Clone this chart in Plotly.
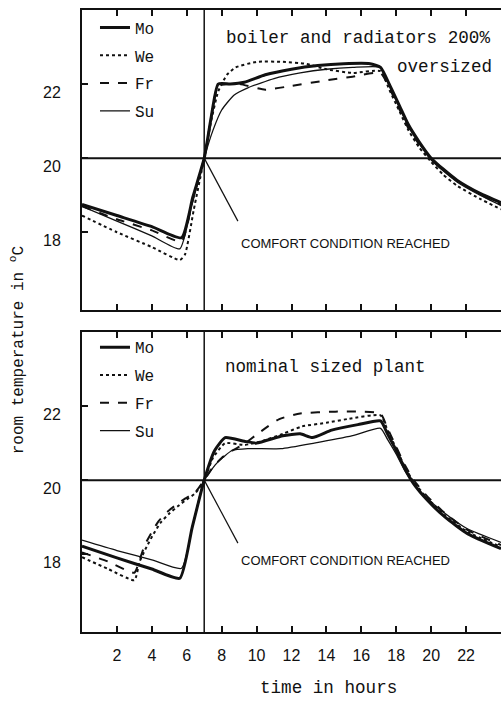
import plotly.graph_objects as go

# ---------------- data ----------------
DAYS = ["Mo", "We", "Fr", "Su"]

# top panel: boiler and radiators 200% oversized
TOP_MO_H = [0, 2, 4, 5.7, 6.35, 7, 7.4, 7.8, 8.5, 9.3, 10.5, 12, 13.5, 15, 16.5, 17.1, 17.6, 18.2, 18.7, 19.3, 20, 20.7, 21.5, 22.8, 24]
TOP_MO_T = [18.75, 18.45, 18.15, 17.85, 18.95, 20.0, 21.1, 22.0, 22.0, 22.05, 22.25, 22.4, 22.5, 22.55, 22.55, 22.45, 22.0, 21.4, 20.9, 20.45, 20.0, 19.7, 19.4, 19.05, 18.8]
TOP_WE_H = [0, 2, 4, 5.6, 5.9, 6.4, 7, 7.4, 7.8, 8.3, 8.8, 10, 11.5, 12.8, 14, 15.5, 17.1, 17.6, 18.2, 18.7, 19.3, 20, 20.7, 21.5, 22.8, 24]
TOP_WE_T = [18.45, 18.0, 17.6, 17.25, 17.4, 18.6, 20.0, 21.0, 21.8, 22.25, 22.45, 22.6, 22.6, 22.55, 22.4, 22.3, 22.35, 21.85, 21.25, 20.75, 20.3, 19.9, 19.55, 19.25, 18.9, 18.62]
TOP_FR_H = [0, 2, 4, 5.7, 6.35, 7, 7.4, 7.8, 9, 10.5, 12, 14, 15.5, 17.1, 17.6, 18.2, 18.7, 19.3, 20, 20.7, 21.5, 22.8, 24]
TOP_FR_T = [18.7, 18.35, 18.05, 17.75, 18.9, 20.0, 21.1, 21.95, 22.0, 21.85, 21.95, 22.1, 22.2, 22.3, 21.9, 21.3, 20.8, 20.38, 19.98, 19.68, 19.38, 19.02, 18.75]
TOP_SU_H = [0, 2, 4, 5.6, 6.3, 7, 7.5, 8, 8.7, 9.5, 11, 12.5, 14, 15.5, 17.1, 17.6, 18.2, 18.7, 19.3, 20, 20.7, 21.5, 22.8, 24]
TOP_SU_T = [18.7, 18.3, 17.9, 17.55, 18.75, 20.0, 20.75, 21.3, 21.7, 21.9, 22.15, 22.3, 22.4, 22.45, 22.45, 21.95, 21.35, 20.85, 20.4, 19.95, 19.65, 19.35, 19.0, 18.72]

# bottom panel: nominal sized plant
BOT_MO_H = [0, 2, 4, 5.6, 6.3, 7, 7.6, 8.2, 9.3, 10, 11.5, 12.5, 13.2, 14.3, 15.8, 17.1, 17.5, 18, 18.5, 19, 19.8, 20.8, 22.1, 24]
BOT_MO_T = [18.22, 17.9, 17.6, 17.35, 18.7, 20.0, 20.8, 21.15, 21.05, 21.0, 21.2, 21.25, 21.15, 21.35, 21.5, 21.6, 21.25, 20.8, 20.3, 19.9, 19.45, 19.0, 18.55, 18.15]
BOT_WE_H = [0, 1.5, 3.0, 3.3, 3.7, 4.1, 4.5, 5.0, 5.5, 6.0, 6.5, 7, 7.5, 8.2, 9.3, 10.3, 11.5, 12.6, 14, 15.2, 17.1, 17.5, 18, 18.5, 19, 19.8, 20.8, 22.1, 24]
BOT_WE_T = [17.92, 17.6, 17.3, 17.8, 18.2, 18.55, 18.85, 19.1, 19.3, 19.48, 19.65, 20.0, 20.6, 21.0, 20.95, 21.05, 21.25, 21.45, 21.55, 21.65, 21.75, 21.35, 20.85, 20.35, 19.95, 19.5, 19.05, 18.6, 18.2]
BOT_FR_H = [0, 1.5, 3.0, 3.3, 3.6, 4.0, 4.4, 4.9, 5.3, 5.9, 6.5, 7, 7.5, 8, 8.6, 9.2, 10.2, 11.3, 12.5, 14.5, 16, 17.1, 17.5, 18, 18.5, 19, 19.8, 20.8, 22.1, 24]
BOT_FR_T = [18.05, 17.8, 17.5, 17.85, 18.25, 18.6, 18.9, 19.15, 19.3, 19.5, 19.68, 20.0, 20.35, 20.6, 20.8, 20.95, 21.3, 21.65, 21.8, 21.85, 21.85, 21.8, 21.4, 20.9, 20.4, 20.0, 19.55, 19.1, 18.65, 18.25]
BOT_SU_H = [0, 2, 4, 5.7, 6.35, 7, 7.8, 8.6, 9.5, 11.4, 13.3, 15.5, 17.1, 17.5, 18, 18.5, 19, 19.8, 20.8, 22.1, 24]
BOT_SU_T = [18.38, 18.1, 17.85, 17.62, 18.8, 20.0, 20.5, 20.8, 20.85, 20.85, 21.0, 21.2, 21.4, 21.1, 20.7, 20.25, 19.9, 19.5, 19.1, 18.68, 18.32]

X_TICKS = [2, 4, 6, 8, 10, 12, 14, 16, 18, 20, 22]
Y_TICKS = [18, 20, 22]
COMFORT_TEMP = 20
START_HOUR = 7
POINTER_END = (8.93, 18.3)

# ---------------- styling ----------------
STYLE = {
    "Mo": dict(width=3, dash="solid"),
    "We": dict(width=2, dash="dot"),
    "Fr": dict(width=2, dash="dash"),
    "Su": dict(width=1.3, dash="solid"),
}
INK = "#111111"
MONO = "Liberation Mono, DejaVu Sans Mono, monospace"
SANS = "Liberation Sans, Arial, sans-serif"

fig = go.Figure()

top = {"Mo": (TOP_MO_H, TOP_MO_T), "We": (TOP_WE_H, TOP_WE_T),
       "Fr": (TOP_FR_H, TOP_FR_T), "Su": (TOP_SU_H, TOP_SU_T)}
bot = {"Mo": (BOT_MO_H, BOT_MO_T), "We": (BOT_WE_H, BOT_WE_T),
       "Fr": (BOT_FR_H, BOT_FR_T), "Su": (BOT_SU_H, BOT_SU_T)}

for d in DAYS:
    h, t = top[d]
    fig.add_trace(go.Scatter(x=h, y=t, mode="lines", name=d, xaxis="x", yaxis="y",
                             line=dict(color=INK, shape="spline", smoothing=0.5, **STYLE[d]),
                             legend="legend", legendgroup="top" + d))
for d in DAYS:
    h, t = bot[d]
    fig.add_trace(go.Scatter(x=h, y=t, mode="lines", name=d, xaxis="x2", yaxis="y2",
                             line=dict(color=INK, shape="spline", smoothing=0.5, **STYLE[d]),
                             legend="legend2", legendgroup="bot" + d))

axis_common = dict(range=[0, 24], showline=True, linewidth=2, linecolor=INK, mirror="ticks",
                   ticks="inside", ticklen=6, tickwidth=1.5, tickcolor=INK, tickvals=X_TICKS,
                   showgrid=False, zeroline=False)
yaxis_common = dict(range=[15.9, 24.0], showline=True, linewidth=2, linecolor=INK,
                    ticks="inside", ticklen=6, tickwidth=1.5, tickcolor=INK, tickvals=Y_TICKS,
                    showgrid=False, zeroline=False, ticklabelshift=8, ticklabelstandoff=16,
                    tickfont=dict(family=SANS, size=16, color=INK))

TOP_DOM = [0.5177, 1.0]
BOT_DOM = [0.0, 0.4823]

fig.update_layout(
    width=501, height=701,
    margin=dict(l=82, r=0, t=10, b=69),
    paper_bgcolor="white", plot_bgcolor="white",
    xaxis=dict(axis_common, anchor="y", showticklabels=False),
    yaxis=dict(yaxis_common, domain=TOP_DOM, anchor="x"),
    xaxis2=dict(axis_common, anchor="y2", showticklabels=True, ticklabelstandoff=8,
                tickfont=dict(family=SANS, size=16, color=INK)),
    yaxis2=dict(yaxis_common, domain=BOT_DOM, anchor="x2"),
    legend=dict(x=0.031, y=0.999, xanchor="left", yanchor="top", bgcolor="rgba(0,0,0,0)",
                font=dict(family=MONO, size=16, color=INK), tracegroupgap=4, itemwidth=30),
    legend2=dict(x=0.031, y=0.485, xanchor="left", yanchor="top", bgcolor="rgba(0,0,0,0)",
                 font=dict(family=MONO, size=16, color=INK), tracegroupgap=4, itemwidth=30),
    showlegend=True,
)

shapes = []
for xr, yr in (("x", "y"), ("x2", "y2")):
    shapes.append(dict(type="line", xref=xr, yref=yr, x0=0, x1=24, y0=COMFORT_TEMP, y1=COMFORT_TEMP,
                       line=dict(color=INK, width=2)))
    shapes.append(dict(type="line", xref=xr, yref=yr + " domain", x0=START_HOUR, x1=START_HOUR, y0=0, y1=1,
                       line=dict(color=INK, width=1.5)))
    shapes.append(dict(type="line", xref=xr, yref=yr, x0=START_HOUR, y0=COMFORT_TEMP,
                       x1=POINTER_END[0], y1=POINTER_END[1], line=dict(color=INK, width=1.2)))
fig.update_layout(shapes=shapes)

ann = [
    dict(text="boiler and radiators 200%", xref="x", yref="y", x=8.15, y=23.25, xanchor="left",
         yanchor="middle", showarrow=False, font=dict(family=MONO, size=17.6, color=INK)),
    dict(text="oversized", xref="x", yref="y", x=23.6, y=22.45, xanchor="right",
         yanchor="middle", showarrow=False, font=dict(family=MONO, size=17.6, color=INK)),
    dict(text="nominal sized plant", xref="x2", yref="y2", x=8.05, y=23.05, xanchor="left",
         yanchor="middle", showarrow=False, font=dict(family=MONO, size=17.6, color=INK)),
    dict(text="COMFORT CONDITION REACHED", xref="x", yref="y", x=9.0, y=17.7, xanchor="left",
         yanchor="middle", showarrow=False, font=dict(family=SANS, size=13, color=INK)),
    dict(text="COMFORT CONDITION REACHED", xref="x2", yref="y2", x=9.0, y=17.84, xanchor="left",
         yanchor="middle", showarrow=False, font=dict(family=SANS, size=13, color=INK)),
    dict(text="time in hours", xref="paper", yref="paper", x=0.589, y=-0.09, xanchor="center",
         yanchor="middle", showarrow=False, font=dict(family=MONO, size=17.6, color=INK)),
    dict(text="room temperature in <sup>o</sup>C", xref="paper", yref="paper", x=-0.155, y=0.453,
         xanchor="center", yanchor="middle", textangle=-90, showarrow=False,
         font=dict(family=MONO, size=16, color=INK)),
]
fig.update_layout(annotations=ann)

fig.write_html("out.html")
